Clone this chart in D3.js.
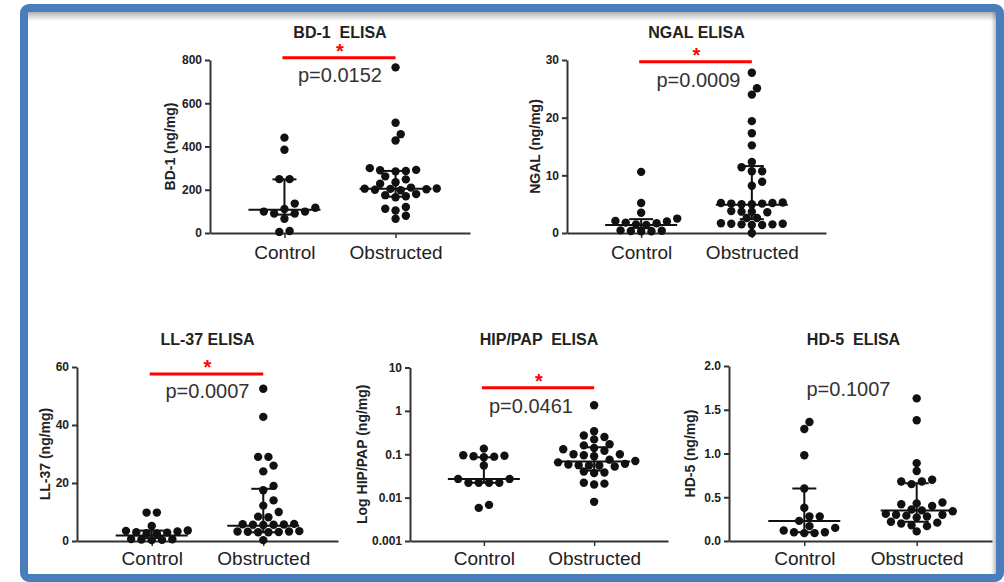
<!DOCTYPE html>
<html>
<head>
<meta charset="utf-8">
<script src="https://cdn.jsdelivr.net/npm/d3@7"></script>
<style>
body { margin: 0; background: #fff; }
svg text { font-family: "Liberation Sans", Arial, sans-serif; }
</style>
</head>
<body>
<div id="chart"></div>
<script>
// Dimensions
const width = 1004, height = 582;

// Groups on the x axis
const groups = ["Control", "Obstructed"];

// BD-1 (ng/mg)
const bd1Control = [441, 385, 249, 249, 136, 117, 111, 99, 99, 90, 90, 66, 9, 5];
const bd1Obstructed = [766, 510, 457, 428, 300, 292, 290, 287, 285, 262, 248, 235, 228, 210, 206, 205, 204, 202, 200, 198, 180, 175, 170, 165, 120, 112, 104, 80, 66];
const bd1Median = [108, 205], bd1Q1 = [85, 168], bd1Q3 = [248, 287];
const bd1Ticks = [0, 200, 400, 600, 800];

// NGAL (ng/mg)
const ngalControl = [10.6, 5.2, 3.5, 2.5, 2.1, 2.0, 1.8, 1.7, 1.5, 1.4, 0.45, 0.4, 0.35, 0.3, 0.3];
const ngalObstructed = [27.8, 25.1, 24.0, 19.4, 17.3, 15.2, 12.3, 11.4, 10.7, 10.7, 8.9, 8.2, 5.3, 5.2, 5.2, 5.1, 5.1, 5.0, 5.0, 3.8, 3.7, 3.7, 3.6, 2.6, 2.6, 1.7, 1.6, 1.6, 1.5, 1.5, 1.4, 1.4, 0.0];
const ngalMedian = [1.4, 4.9], ngalQ1 = [0.9, 2.4], ngalQ3 = [2.4, 11.6];
const ngalTicks = [0, 10, 20, 30];

// LL-37 (ng/mg)
const ll37Control = [9.8, 9.8, 5.2, 3.6, 3.5, 3.3, 3.0, 2.9, 2.7, 2.6, 0.7, 0.6, 0.5, 0.4, 0.3];
const ll37Obstructed = [52.5, 42.8, 29.0, 29.0, 26.0, 24.0, 19.0, 17.5, 14.0, 12.2, 10.0, 8.4, 8.2, 5.9, 5.8, 5.7, 5.6, 5.6, 5.5, 3.4, 3.3, 3.3, 3.2, 3.1, 3.0, 3.0, 0.3];
const ll37Median = [1.9, 5.3], ll37Q1 = [1.0, 3.0], ll37Q3 = [3.6, 18.0];
const ll37Ticks = [0, 20, 40, 60];

// HIP/PAP (ng/mg), log axis
const hipControl = [0.135, 0.095, 0.092, 0.09, 0.088, 0.085, 0.055, 0.027, 0.027, 0.022, 0.022, 0.022, 0.022, 0.0068, 0.0058];
const hipObstructed = [1.35, 0.34, 0.27, 0.25, 0.22, 0.17, 0.16, 0.14, 0.13, 0.12, 0.10, 0.10, 0.095, 0.09, 0.075, 0.07, 0.065, 0.06, 0.058, 0.056, 0.055, 0.055, 0.052, 0.04, 0.038, 0.037, 0.022, 0.02, 0.021, 0.008];
const hipMedian = [0.027, 0.068], hipQ1 = [0.022, 0.042], hipQ3 = [0.085, 0.145];
const hipTicks = [0.001, 0.01, 0.1, 1, 10];

// HD-5 (ng/mg)
const hd5Control = [1.36, 1.28, 0.98, 0.60, 0.38, 0.28, 0.28, 0.23, 0.17, 0.15, 0.12, 0.10, 0.09, 0.09, 0.10];
const hd5Obstructed = [1.63, 1.38, 0.89, 0.80, 0.70, 0.68, 0.68, 0.65, 0.44, 0.43, 0.42, 0.40, 0.36, 0.35, 0.34, 0.31, 0.30, 0.30, 0.29, 0.28, 0.27, 0.22, 0.21, 0.20, 0.18, 0.17, 0.11];
const hd5Median = [0.23, 0.35], hd5Q1 = [0.10, 0.22], hd5Q3 = [0.60, 0.66];
const hd5Ticks = [0, 0.5, 1, 1.5, 2];

// Titles, labels, p values, bracket height (data units, null = no bracket)
const titles = ["BD-1  ELISA", "NGAL ELISA", "LL-37 ELISA", "HIP/PAP  ELISA", "HD-5  ELISA"];
const yLabels = ["BD-1 (ng/mg)", "NGAL (ng/mg)", "LL-37 (ng/mg)", "Log HIP/PAP (ng/mg)", "HD-5 (ng/mg)"];
const pValues = ["p=0.0152", "p=0.0009", "p=0.0007", "p=0.0461", "p=0.1007"];
const sigLevels = [810, 29.7, 57.6, 3.4, null];

const panels = [
  { c: bd1Control, o: bd1Obstructed, med: bd1Median, q1: bd1Q1, q3: bd1Q3, ticks: bd1Ticks, domain: [0, 800], fmt: d3.format("d"),
    box: { left: 210, right: 470, top: 60, bottom: 233 }, labelDx: 40, pY: 82, pDx: 0, titleY: 38, titleDx: 0, xPad: 7.5 },
  { c: ngalControl, o: ngalObstructed, med: ngalMedian, q1: ngalQ1, q3: ngalQ3, ticks: ngalTicks, domain: [0, 30], fmt: d3.format("d"),
    box: { left: 567, right: 826, top: 60, bottom: 233 }, labelDx: 32, pY: 87, pDx: 2, titleY: 38, titleDx: 0, xPad: 7.5 },
  { c: ll37Control, o: ll37Obstructed, med: ll37Median, q1: ll37Q1, q3: ll37Q3, ticks: ll37Ticks, domain: [0, 60], fmt: d3.format("d"),
    box: { left: 77, right: 338, top: 367, bottom: 541 }, labelDx: 32, pY: 398, pDx: 0, titleY: 345, titleDx: 0, xPad: 5.5 },
  { c: hipControl, o: hipObstructed, med: hipMedian, q1: hipQ1, q3: hipQ3, ticks: hipTicks, domain: [0.001, 10], log: true, fmt: d => String(d),
    box: { left: 410, right: 668, top: 367.5, bottom: 541 }, labelDx: 48, pY: 413, pDx: -8, titleY: 345, titleDx: 0, xPad: 5.5 },
  { c: hd5Control, o: hd5Obstructed, med: hd5Median, q1: hd5Q1, q3: hd5Q3, ticks: hd5Ticks, domain: [0, 2], fmt: d3.format(".1f"),
    box: { left: 729, right: 992, top: 366, bottom: 541 }, labelDx: 39, pY: 396, pDx: -12, titleY: 345, titleDx: -7, xPad: 5.5 }
];

const svg = d3.select("#chart").append("svg")
    .attr("width", width)
    .attr("height", height);

// Cadre bleu avec ombre intérieure
const defs = svg.append("defs");
const gTop = defs.append("linearGradient").attr("id", "shTop").attr("x1", 0).attr("y1", 0).attr("x2", 0).attr("y2", 1);
gTop.append("stop").attr("offset", "0%").attr("stop-color", "#000").attr("stop-opacity", 0.3);
gTop.append("stop").attr("offset", "100%").attr("stop-color", "#000").attr("stop-opacity", 0);
const gRight = defs.append("linearGradient").attr("id", "shRight").attr("x1", 1).attr("y1", 0).attr("x2", 0).attr("y2", 0);
gRight.append("stop").attr("offset", "0%").attr("stop-color", "#000").attr("stop-opacity", 0.25);
gRight.append("stop").attr("offset", "100%").attr("stop-color", "#000").attr("stop-opacity", 0);

svg.append("rect")
    .attr("x", 24).attr("y", 8).attr("width", 976).attr("height", 570).attr("rx", 5)
    .attr("fill", "#fff").attr("stroke", "#4a7ebb").attr("stroke-width", 8);
svg.append("rect").attr("x", 28).attr("y", 12).attr("width", 968).attr("height", 9).attr("fill", "url(#shTop)");
svg.append("rect").attr("x", 991).attr("y", 12).attr("width", 5).attr("height", 562).attr("fill", "url(#shRight)");

const r = 4.2, step = 10.3, minDist = 7.9;

// Disposition en essaim : valeurs basses d'abord, puis recentrage des rangées
function swarm(values, cx, y) {
  const pts = values.map(v => ({ v, py: y(v), dx: 0 })).sort((a, b) => b.py - a.py);
  const placed = [];
  pts.forEach(p => {
    for (let k = 0; k < 80; k++) {
      const off = (k % 2 ? 1 : -1) * Math.ceil(k / 2) * step / 2;
      const hit = placed.some(q => Math.hypot(q.dx - off, q.py - p.py) < minDist);
      const sameRow = placed.some(q => Math.abs(q.py - p.py) < 2.5 && Math.abs(q.dx - off) < step - 0.1);
      if (!hit && !sameRow) { p.dx = off; break; }
    }
    placed.push(p);
  });
  // recentrer les rangées horizontales
  const seen = new Set();
  placed.forEach(p => {
    if (seen.has(p)) return;
    const row = [p];
    seen.add(p);
    for (let i = 0; i < row.length; i++) {
      placed.forEach(q => {
        if (!seen.has(q) && Math.abs(q.py - row[i].py) < 4 && Math.abs(q.dx - row[i].dx) <= step * 1.1) {
          seen.add(q); row.push(q);
        }
      });
    }
    const mean = d3.mean(row, d => d.dx);
    if (Math.abs(mean) < 0.5) return;
    const others = placed.filter(q => !row.includes(q));
    const ok = row.every(a => others.every(q => Math.hypot(q.dx - (a.dx - mean), q.py - a.py) >= minDist - 0.5));
    if (ok) row.forEach(a => a.dx -= mean);
  });
  return placed.map(p => ({ x: cx + p.dx, y: p.py }));
}

titles.forEach((title, i) => {
  const p = panels[i];
  const g = svg.append("g");

  const x = d3.scalePoint().domain(groups).range([p.box.left, p.box.right]).padding(0.67);
  const y = (p.log ? d3.scaleLog() : d3.scaleLinear()).domain(p.domain).range([p.box.bottom, p.box.top]);
  const mid = (x(groups[0]) + x(groups[1])) / 2;

  // Axe Y
  const ya = g.append("g")
      .attr("transform", `translate(${p.box.left},0)`)
      .call(d3.axisLeft(y).tickValues(p.ticks).tickFormat(p.fmt).tickSize(5).tickSizeOuter(0).tickPadding(3));
  ya.attr("font-family", null);
  ya.select(".domain").attr("stroke", "#333").attr("stroke-width", 2);
  ya.selectAll(".tick line").attr("stroke", "#333").attr("stroke-width", 2);
  ya.selectAll(".tick text").attr("font-size", 12).attr("font-weight", "bold").attr("fill", "#222");

  // Axe X
  const xa = g.append("g")
      .attr("transform", `translate(0,${p.box.bottom})`)
      .call(d3.axisBottom(x).tickSize(5).tickSizeOuter(0).tickPadding(p.xPad));
  xa.attr("font-family", null);
  xa.select(".domain").attr("stroke", "#333").attr("stroke-width", 2);
  xa.selectAll(".tick line").attr("stroke", "#333").attr("stroke-width", 1.5);
  xa.selectAll(".tick text").attr("font-size", 19).attr("fill", "#222");

  // Titre de l'axe Y
  g.append("text")
      .attr("transform", `translate(${p.box.left - p.labelDx},${(p.box.top + p.box.bottom) / 2}) rotate(-90)`)
      .attr("text-anchor", "middle")
      .attr("dy", "0.35em")
      .attr("font-size", 14)
      .attr("font-weight", "bold")
      .attr("fill", "#222")
      .text(yLabels[i]);

  // Titre du graphique
  g.append("text")
      .attr("x", mid + p.titleDx)
      .attr("y", p.titleY)
      .attr("text-anchor", "middle")
      .attr("font-size", 16)
      .attr("font-weight", "bold")
      .attr("fill", "#222")
      .style("white-space", "pre")
      .text(title);

  // Points
  [p.c, p.o].forEach((vals, j) => {
    g.selectAll(null)
        .data(swarm(vals, x(groups[j]), y))
        .enter().append("circle")
        .attr("cx", d => d.x)
        .attr("cy", d => d.y)
        .attr("r", r)
        .attr("fill", "#111");
  });

  // Médiane et intervalle interquartile
  groups.forEach((grp, j) => {
    const cx = x(grp);
    g.append("line").attr("x1", cx - 36).attr("x2", cx + 36)
        .attr("y1", y(p.med[j])).attr("y2", y(p.med[j]))
        .attr("stroke", "#111").attr("stroke-width", 2);
    [p.q1[j], p.q3[j]].forEach(q => {
      g.append("line").attr("x1", cx - 12).attr("x2", cx + 12)
          .attr("y1", y(q)).attr("y2", y(q))
          .attr("stroke", "#111").attr("stroke-width", 2);
    });
    g.append("line").attr("x1", cx).attr("x2", cx)
        .attr("y1", y(p.q1[j])).attr("y2", y(p.q3[j]))
        .attr("stroke", "#111").attr("stroke-width", 2);
  });

  // Barre de significativité
  if (sigLevels[i] !== null) {
    const sy = y(sigLevels[i]);
    g.append("line")
        .attr("x1", x(groups[0]) - 2).attr("x2", x(groups[1]))
        .attr("y1", sy).attr("y2", sy)
        .attr("stroke", "#f00").attr("stroke-width", 3);
    g.append("text")
        .attr("x", mid)
        .attr("y", sy + 0.5)
        .attr("text-anchor", "middle")
        .attr("font-size", 20)
        .attr("font-weight", "bold")
        .attr("fill", "#f00")
        .text("*");
  }

  // Valeur p
  g.append("text")
      .attr("x", mid + p.pDx)
      .attr("y", p.pY)
      .attr("text-anchor", "middle")
      .attr("font-size", 20)
      .attr("fill", "#333")
      .text(pValues[i]);
});
</script>
</body>
</html>
